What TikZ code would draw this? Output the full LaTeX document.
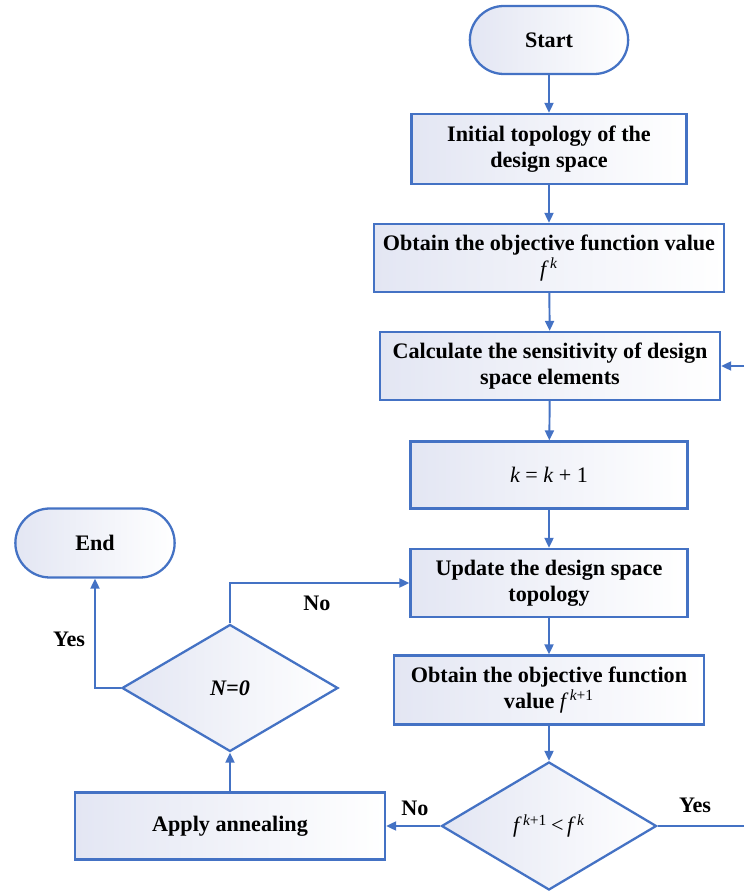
\documentclass[tikz,border=0pt]{standalone}
\usepackage{fontspec}
\setmainfont{Liberation Serif}
\usepackage{tikz}
\usepackage{xcolor}
\usetikzlibrary{shapes.geometric, shapes.misc, arrows.meta, positioning, calc}
\definecolor{flowBlue}{HTML}{4472C4}
\definecolor{flowFill}{HTML}{E3E6F3}

% italic symbols set in text, medium weight
\newcommand{\sym}[1]{{\mdseries\itshape #1}}
\newcommand{\pw}[1]{\textsuperscript{\mdseries #1}}

\begin{document}
\begin{tikzpicture}[
  every node/.style={font=\fontsize{12.6}{15}\selectfont\bfseries},
  process/.style={rectangle, draw=flowBlue, line width=1.3pt, left color=flowFill, right color=white, align=center, inner sep=2pt},
  terminal/.style={rounded rectangle, draw=flowBlue, line width=1.3pt, left color=flowFill, right color=white, minimum width=3.4cm, minimum height=1.36cm},
  decision/.style={diamond, draw=flowBlue, line width=1.3pt, left color=flowFill, right color=white, inner sep=0pt, minimum width=4.3cm, minimum height=2.56cm},
  arrow/.style={-{Triangle[length=2mm,width=1.8mm]}, draw=flowBlue, line width=1.1pt},
  link/.style={draw=flowBlue, line width=1.1pt},
]
\useasboundingbox (0,0) rectangle (14.88,17.86);

% Main column
\node[terminal] (start) at (10.98, 17.06) {Start};
\node[process, minimum width=5.5cm, minimum height=1.4cm] (init) at (10.98, 14.88) {Initial topology of the\\design space};
\node[process, minimum width=7.0cm, minimum height=1.36cm] (obj) at (10.98, 12.70) {Obtain the objective function value\\\sym{f}\,\pw{\sym{k}}};
\node[process, minimum width=6.8cm, minimum height=1.36cm] (sens) at (11.0, 10.54) {Calculate the sensitivity of design\\space elements};
\node[process, minimum width=5.54cm, minimum height=1.34cm] (iter) at (10.98, 8.36) {\mdseries\sym{k} = \sym{k} + 1};
\node[process, minimum width=5.54cm, minimum height=1.36cm] (upd) at (10.98, 6.20) {Update the design space\\topology};
\node[process, minimum width=6.2cm, minimum height=1.38cm] (objnew) at (10.98, 4.06) {Obtain the objective function\\value \sym{f}\,\pw{\sym{k}+1}};
\node[decision] (cmp) at (10.98, 1.34) {\mdseries\sym{f}\,\pw{\sym{k}+1}\,<\,\sym{f}\,\pw{\sym{k}}};

% Left column
\node[process, minimum width=6.2cm, minimum height=1.34cm] (anneal) at (4.6, 1.34) {Apply annealing};
\node[decision, minimum width=4.32cm, minimum height=2.54cm] (check) at (4.6, 4.10) {\itshape N=0};
\node[terminal, minimum width=3.42cm, minimum height=1.38cm] (end) at (1.9, 7.0) {End};

% Loop ends at the right border
\coordinate (yesout) at (14.88, 1.34);
\coordinate (loopin) at (14.88, 10.54);

% Connectors
\draw[arrow] (start) -- (init);
\draw[arrow] (init) -- (obj);
\draw[arrow] (obj) -- (sens);
\draw[arrow] (sens) -- (iter);
\draw[arrow] (iter) -- (upd);
\draw[arrow] (upd) -- (objnew);
\draw[arrow] (objnew) -- (cmp);
\draw[link] (cmp.east) -- (yesout);
\draw[arrow] (loopin) -- (sens.east);
\draw[arrow] (cmp.west) -- (anneal.east);
\draw[arrow] (anneal) -- (check);
\draw[arrow] (check.west) -| (end.south);
\draw[arrow] (check.north) |- (upd.west);

% Branch labels
\node at (13.9, 1.76) {Yes};
\node at (8.3, 1.70) {No};
\node at (1.38, 5.08) {Yes};
\node at (6.34, 5.80) {No};

\end{tikzpicture}
\end{document}
